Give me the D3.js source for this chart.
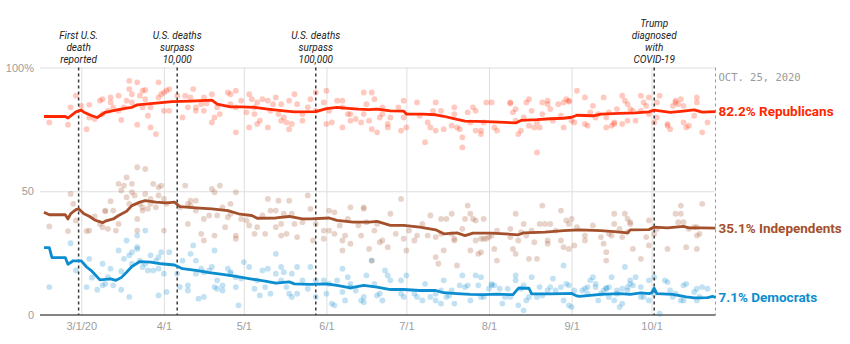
<!DOCTYPE html>
<html>
<head>
<meta charset="utf-8">
<script src="https://cdn.jsdelivr.net/npm/d3@7"></script>
<style>
  body { margin: 0; background: #fff; }
  svg { font-family: Roboto, "Noto Sans", sans-serif; }
  .axis .domain { display: none; }
  .axis text { fill: #9d9d9d; font-size: 11px; }
  .grid .domain { display: none; }
  .grid line { stroke: #dedede; stroke-width: 1; }
</style>
</head>
<body>
<div id="vis"></div>
<script>
// trend lines (approval share by party, %)
var repTrend = [["2/16",80.2],["2/24",80.2],["2/25",79.6],["2/28",82.1],["3/1",82.8],["3/2",81.9],["3/5",80.5],["3/7",79.8],["3/9",81.2],["3/10",81.9],["3/14",82.8],["3/18",83.6],["3/20",83.9],["3/22",84.9],["3/25",85.2],["3/29",85.6],["4/4",86.2],["4/11",86.4],["4/19",86.8],["4/21",85.2],["4/26",84.1],["4/30",84.1],["5/5",83.9],["5/10",83.2],["5/16",82.5],["5/20",82.1],["5/28",82.2],["6/1",83.4],["6/5",83.9],["6/8",83.6],["6/13",83.2],["6/17",83.0],["6/20",83.2],["6/25",82.5],["6/30",82.4],["7/1",81.2],["7/7",81.2],["7/12",80.9],["7/15",80.3],["7/20",79.0],["7/23",78.3],["7/31",78.1],["8/7",77.8],["8/11",77.6],["8/13",78.6],["8/19",78.9],["8/24",79.3],["8/29",79.5],["9/1",79.9],["9/3",80.7],["9/9",80.5],["9/12",81.2],["9/19",81.5],["9/25",81.7],["9/30",82.1],["10/2",82.8],["10/4",82.5],["10/8",81.9],["10/12",82.3],["10/17",82.9],["10/20",82.0],["10/25",82.2]];
var indTrend = [["2/16",41.5],["2/18",40.5],["2/24",40.5],["2/25",38.8],["2/26",40.9],["2/28",42.6],["2/29",42.9],["3/2",40.9],["3/4",39.9],["3/6",38.4],["3/9",37.3],["3/10",37.9],["3/13",38.8],["3/15",40.2],["3/18",41.9],["3/20",44.2],["3/23",45.6],["3/25",46.2],["3/29",45.6],["4/2",45.3],["4/5",45.6],["4/7",43.8],["4/13",43.3],["4/19",42.9],["4/25",42.2],["4/29",40.9],["5/1",40.6],["5/4",40.2],["5/6",39.1],["5/13",39.2],["5/18",39.8],["5/23",38.8],["5/26",38.8],["6/2",39.2],["6/5",38.2],["6/11",37.5],["6/17",37.5],["6/20",37.8],["6/25",36.2],["6/30",36.2],["7/6",35.5],["7/12",34.4],["7/15",32.8],["7/20",33.2],["7/23",32.1],["7/26",33.1],["8/2",33.1],["8/7",32.8],["8/12",32.4],["8/14",33.2],["8/22",33.5],["8/29",34.1],["9/4",34.4],["9/12",34.1],["9/17",33.7],["9/22",33.2],["9/23",34.4],["9/30",34.5],["10/2",35.5],["10/7",35.2],["10/13",35.8],["10/15",35.2],["10/20",35.2],["10/25",35.1]];
var demTrend = [["2/16",27.2],["2/18",27.2],["2/19",23.2],["2/24",23.2],["2/25",20.5],["2/27",21.9],["3/1",21.9],["3/3",19.4],["3/5",17.7],["3/8",14.2],["3/12",14.6],["3/14",14.0],["3/16",15.1],["3/18",17.3],["3/20",19.6],["3/23",21.6],["3/27",21.4],["3/31",20.7],["4/5",20.2],["4/8",18.7],["4/13",18.0],["4/18",17.1],["4/23",16.4],["4/28",15.6],["5/4",14.5],["5/9",13.7],["5/13",12.9],["5/18",13.4],["5/20",12.6],["5/26",12.4],["6/1",12.6],["6/5",12.0],["6/10",11.0],["6/15",12.0],["6/20",11.3],["6/25",10.3],["6/30",10.3],["7/6",9.9],["7/12",9.9],["7/15",9.0],["7/20",8.6],["7/25",8.3],["7/30",8.2],["8/4",8.4],["8/10",8.2],["8/12",10.8],["8/16",10.8],["8/17",8.5],["8/24",8.5],["8/29",8.6],["9/1",8.7],["9/3",7.7],["9/4",7.5],["9/12",8.3],["9/19",8.6],["9/23",8.3],["9/27",8.9],["9/30",8.6],["10/1",8.9],["10/2",10.8],["10/3",8.6],["10/9",8.3],["10/14",7.3],["10/17",6.9],["10/22",7.0],["10/24",7.5],["10/25",7.1]];

// individual polls
var repPolls = [["2/18",77.8],["2/25",76.9],["2/26",83.9],["2/28",88.6],["3/1",84.5],["3/3",75.1],["3/4",84.9],["3/4",79.8],["3/6",79.2],["3/8",86.6],["3/9",87.2],["3/9",81.2],["3/11",82.5],["3/12",87.9],["3/12",85.9],["3/13",83.9],["3/15",88.6],["3/15",82.5],["3/16",78.8],["3/17",83.9],["3/18",86.6],["3/19",94.6],["3/19",91.3],["3/20",89.2],["3/20",85.9],["3/22",94.0],["3/22",76.9],["3/23",88.6],["3/24",83.9],["3/24",90.6],["3/25",90.9],["3/25",87.2],["3/26",80.5],["3/27",75.8],["3/27",83.9],["3/29",73.1],["3/30",94.0],["3/30",87.9],["3/31",89.2],["4/1",89.9],["4/1",82.5],["4/2",90.6],["4/3",91.3],["4/3",82.5],
  ["4/6",88.6],["4/8",79.8],["4/9",88.6],["4/10",83.9],["4/11",87.9],["4/12",91.3],["4/13",82.5],["4/13",83.9],["4/15",85.2],["4/16",87.9],["4/16",82.5],["4/17",85.5],["4/19",89.2],["4/19",77.8],["4/20",79.8],["4/21",83.9],["4/22",81.2],["4/25",89.9],["4/26",85.2],["4/26",89.2],["4/28",90.6],["4/28",73.8],["4/28",83.9],["4/30",86.6],["5/2",81.9],["5/3",89.2],["5/3",75.8],["5/4",87.2],["5/5",83.9],["5/5",81.2],["5/6",77.2],["5/6",85.9],["5/7",78.5],["5/8",87.2],["5/10",86.6],["5/10",75.8],["5/11",82.5],["5/12",85.2],["5/13",87.9],["5/14",81.2],["5/15",78.5],["5/15",85.2],["5/16",79.8],["5/17",77.8],["5/18",86.6],["5/18",75.1],["5/19",77.2],["5/20",89.2],["5/21",85.2],["5/23",81.2],["5/23",78.5],["5/25",83.9],
  ["5/26",87.2],["5/28",89.9],["5/28",82.5],["5/31",85.9],["6/1",90.6],["6/1",77.2],["6/2",82.5],["6/3",77.8],["6/5",86.6],["6/7",83.9],["6/7",86.6],["6/7",75.8],["6/9",81.2],["6/10",78.5],["6/10",81.2],["6/12",79.2],["6/14",77.8],["6/15",89.9],["6/15",81.2],["6/16",85.2],["6/17",78.5],["6/18",89.9],["6/18",75.1],["6/19",87.2],["6/20",73.8],["6/21",79.8],["6/22",81.2],["6/22",83.9],["6/24",75.8],["6/24",77.2],["6/25",79.8],["6/28",83.9],["6/29",74.5],["6/30",86.6],["6/30",79.8],["7/1",75.8],["7/5",85.9],["7/6",80.5],["7/8",69.8],["7/9",77.8],["7/10",75.8],["7/11",82.5],["7/12",85.9],["7/12",74.5],["7/14",82.5],
  ["7/15",75.1],["7/18",76.5],["7/19",83.9],["7/19",81.2],["7/20",75.8],["7/21",75.1],["7/22",71.8],["7/22",67.7],["7/24",81.9],["7/25",77.8],["7/26",83.9],["7/27",82.5],["7/27",74.5],["7/29",73.1],["7/29",74.5],["7/30",77.8],["7/31",85.9],["8/2",85.9],["8/3",75.8],["8/4",74.5],["8/9",85.9],["8/9",85.5],["8/10",81.9],["8/11",83.2],["8/11",78.5],["8/12",73.1],["8/13",74.5],["8/14",79.8],["8/15",85.9],["8/16",87.2],["8/16",76.5],["8/17",82.5],["8/18",75.8],["8/19",65.7],["8/19",77.8],["8/20",75.8],["8/21",85.9],["8/21",81.2],["8/23",86.6],["8/23",85.2],["8/24",83.2],["8/25",78.5],["8/27",85.2],["8/28",80.5],["8/29",75.8],["8/29",85.9],["8/30",87.2],["8/31",86.6],["8/31",86.2],["9/1",78.5],["9/2",77.8],["9/3",90.6],
  ["9/6",87.9],["9/6",77.2],["9/7",76.5],["9/8",81.9],["9/9",84.5],["9/10",79.8],["9/11",81.2],["9/13",87.9],["9/14",79.8],["9/14",75.8],["9/15",81.9],["9/16",76.5],["9/17",77.8],["9/17",77.2],["9/18",83.2],["9/20",88.6],["9/20",77.2],["9/21",86.6],["9/22",85.2],["9/22",78.5],["9/23",83.2],["9/24",82.5],["9/25",78.5],["9/27",88.6],["9/27",82.5],["9/28",85.9],["9/29",84.5],["9/30",87.9],["9/30",81.2],["10/2",77.8],["10/3",79.8],["10/3",85.9],["10/4",88.6],["10/7",76.5],["10/7",77.2],["10/8",75.1],["10/9",84.5],["10/10",85.9],["10/10",86.6],["10/11",85.2],["10/12",87.2],["10/13",84.5],["10/13",77.8],["10/14",75.8],["10/15",76.5],["10/17",80.5],["10/18",87.9],["10/18",85.9],["10/20",73.8],["10/22",77.8]];

var indPolls = [["2/18",35.8],["2/25",33.9],["2/26",48.9],["2/27",44.9],["2/28",38.2],["3/3",33.9],["3/4",34.1],["3/6",39.8],["3/8",36.8],["3/9",35.5],["3/10",41.9],["3/10",42.2],["3/11",34.8],["3/12",46.0],["3/13",42.2],["3/14",34.1],["3/15",53.0],["3/15",36.8],["3/16",50.3],["3/17",52.3],["3/18",55.6],["3/18",47.6],["3/19",44.9],["3/20",53.0],["3/20",49.6],["3/21",48.3],["3/22",59.7],["3/22",34.1],["3/22",38.8],["3/23",44.9],["3/24",43.5],["3/24",42.2],["3/25",59.0],["3/25",48.9],["3/26",42.9],["3/27",44.9],["3/27",46.9],["3/28",53.0],["3/29",43.5],["3/30",48.3],["3/30",51.6],["3/31",52.3],["4/1",46.9],["4/1",34.1],["4/2",44.9],
  ["4/7",43.5],["4/9",52.3],["4/10",44.9],["4/10",36.8],["4/11",44.2],["4/11",46.2],["4/13",42.2],["4/13",46.2],["4/15",32.8],["4/16",30.1],["4/16",38.8],["4/18",40.2],["4/19",50.9],["4/20",49.6],["4/20",32.1],["4/21",40.2],["4/22",52.3],["4/23",43.5],["4/24",35.5],["4/25",39.5],["4/26",44.9],["4/26",40.9],["4/28",32.1],["4/28",49.6],["4/28",30.8],["4/30",38.8],["5/2",38.2],["5/3",36.2],["5/5",32.8],["5/6",35.5],["5/8",40.2],["5/9",32.8],["5/10",46.9],["5/11",42.2],["5/13",42.2],["5/13",35.5],["5/14",46.2],["5/15",36.8],["5/15",32.1],["5/16",40.9],["5/17",32.8],["5/18",46.2],["5/19",40.9],["5/20",36.8],["5/21",31.5],["5/23",37.5],["5/25",48.3],
  ["5/26",42.9],["5/27",30.1],["5/28",36.8],["5/31",34.1],["5/31",30.8],["6/2",34.1],["6/2",42.2],["6/4",41.5],["6/4",32.8],["6/6",36.2],["6/7",30.1],["6/7",26.1],["6/8",32.1],["6/9",38.8],["6/10",43.5],["6/10",28.8],["6/13",36.2],["6/14",32.1],["6/15",43.5],["6/15",42.9],["6/16",37.5],["6/17",26.7],["6/18",22.0],["6/19",34.1],["6/20",36.8],["6/21",29.4],["6/22",30.1],["6/24",27.4],["6/25",40.9],["6/27",32.8],["6/29",46.9],["6/30",30.8],["7/1",26.1],["7/2",34.1],["7/4",30.1],["7/5",32.1],["7/7",36.8],["7/9",32.1],["7/10",40.2],["7/12",31.5],["7/12",23.4],["7/13",20.7],["7/14",38.8],["7/14",32.8],
  ["7/15",26.1],["7/16",38.8],["7/18",40.9],["7/18",32.8],["7/19",30.8],["7/19",30.1],["7/20",20.0],["7/22",34.8],["7/23",38.8],["7/24",44.2],["7/25",26.1],["7/25",40.9],["7/26",38.8],["7/27",38.2],["7/27",30.1],["7/28",24.7],["7/29",30.8],["7/29",25.4],["7/30",38.8],["7/30",30.8],["7/31",30.8],["8/1",31.5],["8/2",32.1],["8/3",26.7],["8/4",34.1],["8/4",22.0],["8/9",31.5],["8/9",34.8],["8/10",26.7],["8/11",40.9],["8/11",24.7],["8/12",30.1],["8/13",33.5],["8/14",36.8],["8/15",32.1],["8/16",22.7],["8/17",34.1],["8/18",29.4],["8/19",22.7],["8/20",36.8],["8/21",44.2],["8/22",36.8],["8/23",30.1],["8/23",28.8],["8/24",36.8],["8/26",34.1],["8/28",30.1],["8/28",42.2],["8/29",27.4],["8/30",38.2],["8/31",36.8],["8/31",26.7],["9/1",38.8],["9/2",28.1],["9/3",35.5],
  ["9/6",32.1],["9/6",30.1],["9/9",36.2],["9/12",31.5],["9/13",28.8],["9/14",22.0],["9/14",25.4],["9/15",32.8],["9/16",32.1],["9/17",40.9],["9/17",36.8],["9/19",34.8],["9/20",31.5],["9/21",40.9],["9/22",38.8],["9/22",33.5],["9/23",36.8],["9/23",37.5],["9/24",26.7],["9/27",22.7],["9/29",31.5],["9/30",38.2],["9/30",28.1],["10/2",32.8],["10/3",34.8],["10/7",26.7],["10/10",40.9],["10/11",37.5],["10/12",40.9],["10/12",44.2],["10/13",37.5],["10/14",27.4],["10/15",34.8],["10/17",35.5],["10/18",32.1],["10/18",26.7],["10/18",35.5],["10/19",32.8],["10/20",44.9]];

var demPolls = [["2/18",11.3],["2/26",29.0],["2/28",18.0],["3/3",11.3],["3/4",22.7],["3/5",15.1],["3/7",10.2],["3/9",12.0],["3/9",20.7],["3/10",12.6],["3/11",15.3],["3/12",18.7],["3/13",12.0],["3/15",26.1],["3/16",10.2],["3/16",17.7],["3/17",22.7],["3/18",30.1],["3/19",24.1],["3/19",7.3],["3/20",25.4],["3/20",20.7],["3/22",27.4],["3/22",26.7],["3/22",32.1],["3/23",22.0],["3/24",19.4],["3/25",34.1],["3/25",20.7],["3/26",18.0],["3/27",24.1],["3/28",18.0],["3/29",22.0],["3/30",23.4],["3/30",7.9],["3/30",18.7],["3/31",25.4],["4/1",16.7],["4/2",9.3],["4/3",25.4],
  ["4/6",16.7],["4/7",11.3],["4/8",22.0],["4/10",9.9],["4/10",12.0],["4/11",24.7],["4/12",28.1],["4/13",22.0],["4/13",16.7],["4/14",6.6],["4/15",18.7],["4/16",17.3],["4/16",7.3],["4/18",18.0],["4/19",19.4],["4/20",11.3],["4/20",26.1],["4/21",10.6],["4/21",14.0],["4/23",9.9],["4/23",12.0],["4/25",18.7],["4/26",16.7],["4/26",17.3],["4/28",11.3],["4/28",15.3],["4/29",3.9],["4/30",14.7],["5/1",21.4],["5/3",19.4],["5/5",10.6],["5/6",14.0],["5/7",7.9],["5/8",18.0],["5/9",11.3],["5/10",18.7],["5/11",8.6],["5/13",16.7],["5/13",24.7],["5/15",19.4],["5/15",14.0],["5/16",17.3],["5/17",11.3],["5/18",8.6],["5/19",16.7],["5/19",7.3],["5/21",19.4],["5/21",8.6],["5/23",14.0],["5/25",10.6],
  ["5/26",19.4],["5/28",14.0],["5/28",7.3],["5/31",14.0],["6/1",8.6],["6/2",12.6],["6/3",4.6],["6/4",3.9],["6/5",14.0],["6/7",18.7],["6/7",9.3],["6/8",5.9],["6/9",15.3],["6/10",12.6],["6/10",11.3],["6/12",9.9],["6/14",5.9],["6/15",5.2],["6/15",7.3],["6/16",16.0],["6/18",22.0],["6/19",12.6],["6/20",7.9],["6/21",8.6],["6/22",5.9],["6/23",18.0],["6/24",16.0],["6/25",14.0],["6/29",14.0],["6/29",8.6],["6/30",7.3],["7/1",16.0],["7/4",8.6],["7/5",7.3],["7/7",5.9],["7/8",12.6],["7/10",7.3],["7/12",8.6],["7/12",5.9],["7/14",4.6],["7/14",9.9],
  ["7/15",14.0],["7/16",7.3],["7/17",7.9],["7/18",9.9],["7/19",4.6],["7/21",12.0],["7/22",16.0],["7/23",11.3],["7/24",12.0],["7/25",5.9],["7/27",16.0],["7/28",12.0],["7/29",15.3],["7/29",7.3],["7/30",7.3],["8/1",10.6],["8/2",12.0],["8/2",12.6],["8/3",12.0],["8/5",10.6],["8/6",4.6],["8/7",7.3],["8/8",10.6],["8/9",7.3],["8/11",14.0],["8/11",16.0],["8/12",3.9],["8/13",10.6],["8/14",12.0],["8/14",1.9],["8/15",5.9],["8/16",7.3],["8/17",15.3],["8/19",7.3],["8/20",11.3],["8/21",7.9],["8/23",9.9],["8/24",11.3],["8/25",14.7],["8/26",9.9],["8/28",11.3],["8/29",20.0],["8/29",5.9],["8/30",12.6],["8/31",3.9],["8/31",12.0],["9/1",3.2],["9/2",9.9],
  ["9/5",9.9],["9/6",10.6],["9/7",11.3],["9/7",8.6],["9/8",14.0],["9/9",15.3],["9/10",11.3],["9/10",12.6],["9/11",5.9],["9/12",8.6],["9/13",9.9],["9/14",10.6],["9/14",10.9],["9/15",11.3],["9/15",7.3],["9/16",15.3],["9/17",5.9],["9/18",9.9],["9/18",8.6],["9/19",3.2],["9/20",4.6],["9/20",10.6],["9/21",19.4],["9/22",9.9],["9/22",11.3],["9/23",12.6],["9/23",14.0],["9/24",12.0],["9/25",15.3],["9/27",11.3],["9/27",7.3],["9/28",7.3],["9/30",14.0],["9/30",5.9],["10/2",15.3],["10/2",8.6],["10/4",0.5],["10/6",14.0],["10/7",13.3],["10/8",9.9],["10/9",7.3],["10/10",8.6],["10/12",5.9],["10/13",12.0],["10/13",5.9],["10/14",12.6],["10/17",9.3],["10/18",10.6],["10/18",5.9],["10/19",7.3],["10/20",11.3],["10/22",10.6]];

var monthTicks = ["3/1","4/1","5/1","6/1","7/1","8/1","9/1","10/1"];
var yTicks = [0, 50, 100];

var eventDates = ["2/29","4/6","5/28","10/2"];
var eventLabels = [["First U.S.","death","reported"],["U.S. deaths","surpass","10,000"],["U.S. deaths","surpass","100,000"],["Trump","diagnosed","with","COVID-19"]];

var series = [
  {name: "Republicans", color: "#ff2700", trend: repTrend, polls: repPolls},
  {name: "Independents", color: "#a4502c", trend: indTrend, polls: indPolls},
  {name: "Democrats", color: "#0b8dd0", trend: demTrend, polls: demPolls}
];

var parseDay = function(s){ return d3.timeParse("%m/%d/%Y")(s + "/2020"); };

var width = 850, height = 344;
var margin = {top: 67.5, bottom: 29, left: 41.3, right: 134.5};

var svg = d3.select("#vis").append("svg")
    .attr("width", width)
    .attr("height", height);

var x = d3.scaleTime()
    .domain([parseDay("2/15"), parseDay("10/25")])
    .range([margin.left, width - margin.right]);
var y = d3.scaleLinear()
    .domain([0, 100])
    .range([height - margin.bottom, margin.top]);

var gridLeft = 40;
var plotRight = x(parseDay("10/25"));

//vertical month gridlines
svg.append("g")
    .attr("class", "grid")
    .attr("transform", "translate(0," + y(0) + ")")
    .call(d3.axisBottom(x)
        .tickValues(monthTicks.map(parseDay))
        .tickSize(-(y(0) - y(100)))
        .tickFormat(""));

//horizontal gridlines at 50 and 100
svg.append("g")
    .attr("class", "grid")
    .attr("transform", "translate(" + gridLeft + ",0)")
    .call(d3.axisLeft(y)
        .tickValues([50, 100])
        .tickSize(-(plotRight - gridLeft))
        .tickFormat(""));

//y labels
svg.append("g")
    .attr("class", "axis")
    .attr("transform", "translate(" + gridLeft + ",0)")
    .call(d3.axisLeft(y)
        .tickValues(yTicks)
        .tickSize(0)
        .tickPadding(6)
        .tickFormat(function(d){ return d == 100 ? "100%" : d; }));

//x labels
svg.append("g")
    .attr("class", "axis")
    .attr("transform", "translate(0," + y(0) + ")")
    .call(d3.axisBottom(x)
        .tickValues(monthTicks.map(parseDay))
        .tickSize(0)
        .tickPadding(7)
        .tickFormat(function(d, i){ return i == 0 ? d3.timeFormat("%-m/%-d/%y")(d) : d3.timeFormat("%-m/%-d")(d); }));

//baseline
svg.append("line")
    .attr("x1", gridLeft).attr("x2", plotRight)
    .attr("y1", y(0)).attr("y2", y(0))
    .attr("stroke", "#5a5a5a")
    .attr("stroke-width", 1.5);

//latest date marker
svg.append("line")
    .attr("x1", plotRight).attr("x2", plotRight)
    .attr("y1", y(100)).attr("y2", y(0))
    .attr("stroke", "#999")
    .attr("stroke-dasharray", "3,3");

svg.append("text")
    .attr("x", plotRight + 3)
    .attr("y", 81)
    .attr("font-family", "'DejaVu Sans Mono', monospace")
    .attr("font-size", "10.5px")
    .attr("fill", "#9a9a9a")
    .text("OCT. 25, 2020");

//polls
series.forEach(function(s){
    svg.append("g")
        .selectAll("circle")
        .data(s.polls)
        .enter().append("circle")
        .attr("cx", function(d){ return x(parseDay(d[0])); })
        .attr("cy", function(d){ return y(d[1]); })
        .attr("r", 2.9)
        .attr("fill", s.color)
        .attr("fill-opacity", 0.25);
});

//event markers, each label line its own text
var noteSize = 10, noteLead = 11.8, noteBottom = 62.5;
eventDates.forEach(function(d, i){
    var ex = x(parseDay(d));
    svg.append("line")
        .attr("x1", ex).attr("x2", ex)
        .attr("y1", y(100)).attr("y2", y(0))
        .attr("stroke", "#3a3a3a")
        .attr("stroke-width", 1.5)
        .attr("stroke-dasharray", "3,3");
    var lines = eventLabels[i];
    svg.append("g")
        .selectAll("text")
        .data(lines)
        .enter().append("text")
        .attr("text-anchor", "middle")
        .attr("font-style", "italic")
        .attr("font-size", noteSize + "px")
        .attr("fill", "#222")
        .attr("x", ex)
        .attr("y", function(t, j){ return noteBottom - (lines.length - 1 - j) * noteLead; })
        .text(function(t){ return t; });
});

//trend lines
var line = d3.line()
    .x(function(d){ return x(parseDay(d[0])); })
    .y(function(d){ return y(d[1]); });

series.forEach(function(s){
    svg.append("path")
        .attr("d", line(s.trend))
        .attr("fill", "none")
        .attr("stroke", s.color)
        .attr("stroke-width", 2.8)
        .attr("stroke-linejoin", "round");

    var last = s.trend[s.trend.length - 1];
    svg.append("text")
        .attr("x", plotRight + 3)
        .attr("y", y(last[1]))
        .attr("dy", "0.35em")
        .attr("font-size", "13.5px")
        .attr("font-weight", "bold")
        .attr("fill", s.color)
        .text(last[1].toFixed(1) + "% " + s.name);
});
</script>
</body>
</html>
